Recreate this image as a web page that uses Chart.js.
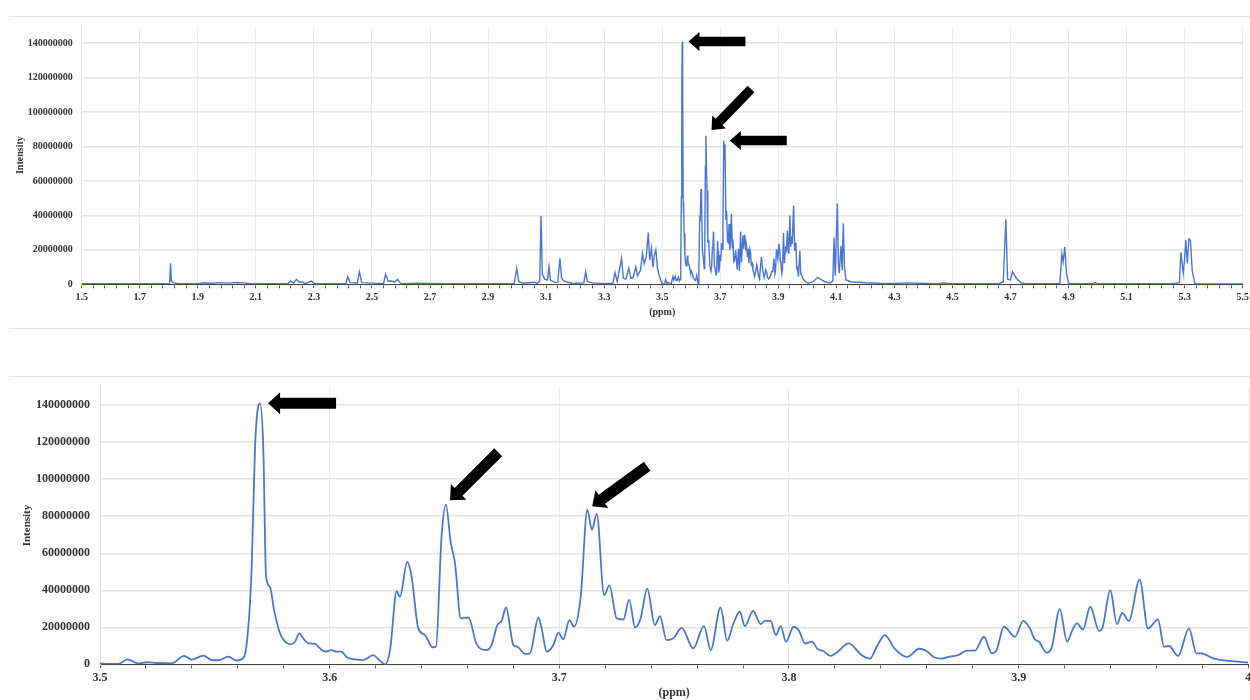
<!DOCTYPE html>
<html>
<head>
<meta charset="utf-8">
<script src="https://cdn.jsdelivr.net/npm/chart.js@4/dist/chart.umd.min.js"></script>
<style>
  html, body { margin: 0; padding: 0; background: #fff; overflow: hidden; width: 1250px; height: 700px; }
  .rule { position: absolute; left: 9px; width: 1241px; height: 1px; background: #e3e3e3; }
  #fullSpectrum { position: absolute; left: 0; top: 17px; }
  #zoomSpectrum { position: absolute; left: 0; top: 377px; }
</style>
</head>
<body>
<div class="rule" style="top:16px"></div>
<div class="rule" style="top:328px"></div>
<div class="rule" style="top:376px"></div>
<canvas id="fullSpectrum" width="1270" height="310"></canvas>
<canvas id="zoomSpectrum" width="1270" height="324"></canvas>
<script>
// Intensities are listed in millions of counts.
const UNIT = 1e6;

// Intensity axis labels (millions)
const intensityTicks = [0, 20, 40, 60, 80, 100, 120, 140];

// 1H NMR spectrum, 1.5 - 3.5 ppm
const lowPpm = [1.50, 1.80, 1.803, 1.806, 1.809, 1.815, 1.83, 1.90, 1.92, 1.95, 1.97, 2.00, 2.03, 2.06, 2.08,
  2.21, 2.22, 2.23, 2.24, 2.25, 2.258, 2.27, 2.292, 2.30, 2.41, 2.4165, 2.425, 2.45, 2.4566, 2.465,
  2.54, 2.547, 2.556, 2.568, 2.578, 2.5876, 2.60, 2.66, 2.70, 2.75, 2.99, 2.999, 3.006, 3.02, 3.06, 3.07,
  3.078, 3.0825, 3.087, 3.095, 3.105, 3.110, 3.115, 3.13, 3.14, 3.1478, 3.153, 3.16, 3.17, 3.19,
  3.23, 3.2362, 3.242, 3.26, 3.30, 3.33, 3.3373, 3.345, 3.36, 3.366, 3.375, 3.385, 3.392, 3.40,
  3.409, 3.415, 3.425, 3.432, 3.438, 3.445, 3.452, 3.457, 3.463, 3.468, 3.473, 3.478, 3.484, 3.49, 3.495];
const lowIntensity = [0.3, 0.3, 0.8, 12.2, 2.0, 1.0, 0.5, 0.3, 0.9, 0.6, 1.0, 0.7, 1.0, 0.8, 0.3,
  0.3, 1.9, 0.6, 2.9, 1.2, 1.5, 0.4, 1.9, 0.3, 0.3, 4.4, 1.0, 0.8, 7.3, 1.0,
  0.4, 5.8, 1.8, 1.9, 1.2, 2.9, 0.4, 0.7, 0.5, 0.3, 0.4, 9.3, 1.5, 0.6, 1.2, 0.5,
  2.0, 39.6, 6.0, 3.0, 2.5, 10.2, 2.5, 1.0, 1.2, 15.1, 4.0, 2.0, 1.5, 0.5,
  0.8, 7.3, 1.5, 0.8, 0.4, 0.6, 6.8, 1.5, 15.1, 3.5, 3.0, 9.3, 3.5, 4.0,
  10.2, 5.0, 8.0, 18.0, 12.0, 16.0, 30.0, 14.0, 20.9, 10.0, 17.0, 19.9, 9.0, 5.0, 2.5];

// 3.5 - 4.0 ppm, the crowded region shown enlarged below
const detailPpm = [3.5000, 3.5044, 3.5080, 3.5119, 3.5167, 3.5203, 3.5247, 3.5312, 3.5367, 3.5399,
  3.5450, 3.5486, 3.5515, 3.5559, 3.5595, 3.5617, 3.5639, 3.5660, 3.5675, 3.5690,
  3.5697, 3.5711, 3.5723, 3.5740, 3.5758, 3.5784, 3.5806, 3.5827, 3.5849, 3.5868,
  3.5885, 3.5907, 3.5936, 3.5958, 3.5980, 3.6009, 3.6030, 3.6052, 3.6074, 3.6110,
  3.6147, 3.6190, 3.6212, 3.6241, 3.6263, 3.6292, 3.6306, 3.6338, 3.6357, 3.6386,
  3.6415, 3.6448, 3.6463, 3.6487, 3.6506, 3.6527, 3.6546, 3.6571, 3.6604, 3.6640,
  3.6681, 3.6705, 3.6730, 3.6749, 3.6768, 3.6800, 3.6817, 3.6851, 3.6872, 3.6909,
  3.6923, 3.6945, 3.6974, 3.6996, 3.7017, 3.7044, 3.7064, 3.7093, 3.7122, 3.7142,
  3.7163, 3.7195, 3.7218, 3.7250, 3.7279, 3.7304, 3.7330, 3.7354, 3.7383, 3.7416,
  3.7438, 3.7467, 3.7496, 3.7533, 3.7583, 3.7630, 3.7659, 3.7702, 3.7731, 3.7757,
  3.7786, 3.7808, 3.7844, 3.7877, 3.7895, 3.7920, 3.7943, 3.7964, 3.7987, 3.8020,
  3.8043, 3.8070, 3.8100, 3.8125, 3.8150, 3.8180, 3.8207, 3.8260, 3.8316, 3.8353,
  3.8382, 3.8418, 3.8460, 3.8514, 3.8568, 3.8603, 3.8632, 3.8665, 3.8701, 3.8737,
  3.8774, 3.8810, 3.8849, 3.8883, 3.8904, 3.8936, 3.8984, 3.9020, 3.9049, 3.9070,
  3.9089, 3.9121, 3.9143, 3.9179, 3.9211, 3.9234, 3.9254, 3.9280, 3.9312, 3.9350,
  3.9364, 3.9399, 3.9428, 3.9451, 3.9480, 3.9527, 3.9563, 3.9607, 3.9633, 3.9655,
  3.9694, 3.9742, 3.9774, 3.9796, 3.9847, 3.9919, 4.0000];
const detailIntensity = [0.5, 0.2, 0.2, 2.7, 0.5, 1.1, 0.7, 0.5, 4.5, 2.5,
  4.7, 2.3, 2.2, 4.1, 2.0, 2.7, 11.3, 50.8, 117, 140,
  141, 117, 47.7, 41.8, 29.3, 16.7, 12.2, 10.8, 12.2, 16.7,
  14.0, 11.3, 11.0, 8.6, 6.8, 7.7, 6.8, 6.8, 3.8, 2.7,
  2.3, 5.0, 2.7, 0.0, 7.7, 39.5, 36.4, 55.3, 47.2, 19.4,
  15.8, 9.2, 9.5, 68.7, 86.3, 66.0, 54.4, 24.8, 25.3, 10.9,
  7.7, 10.4, 21.2, 23.5, 30.7, 10.4, 9.5, 5.6, 5.9, 25.3,
  19.4, 6.8, 10.4, 17.1, 13.5, 23.9, 20.3, 36.4, 83.5, 72.7,
  81.3, 37.3, 42.7, 24.8, 24.2, 35.0, 19.9, 24.8, 40.9, 21.2,
  26.0, 13.1, 14.0, 19.7, 8.6, 20.6, 7.7, 30.7, 12.7, 21.7,
  28.4, 20.6, 28.9, 21.7, 23.5, 23.5, 15.8, 20.6, 12.2, 20.3,
  18.3, 11.3, 12.2, 8.2, 7.2, 4.5, 6.3, 11.3, 5.0, 3.0,
  9.5, 15.8, 8.5, 4.0, 8.4, 6.8, 3.8, 3.1, 4.2, 5.0,
  7.4, 7.4, 14.9, 5.9, 7.7, 20.3, 14.9, 23.5, 19.4, 13.5,
  12.2, 6.3, 8.6, 29.8, 12.2, 18.5, 22.1, 18.8, 31.1, 18.1,
  19.4, 40.0, 21.7, 27.8, 23.5, 45.8, 19.4, 24.2, 9.5, 9.9,
  4.5, 19.4, 5.9, 5.9, 3.2, 1.8, 0.9];

// 4.0 - 5.5 ppm
const highPpm = [4.005, 4.02, 4.035, 4.045, 4.06, 4.08, 4.088, 4.092, 4.096, 4.1035, 4.107, 4.11, 4.116,
  4.12, 4.124, 4.128, 4.133, 4.15, 4.20, 4.25, 4.30, 4.35, 4.40, 4.45, 4.47, 4.49,
  4.66, 4.675, 4.684, 4.69, 4.70, 4.707, 4.72, 4.735, 4.75, 4.87, 4.8769, 4.8815, 4.887, 4.893,
  4.90, 4.91, 4.985, 4.99, 5.00, 5.25, 5.27, 5.282, 5.287, 5.295, 5.30, 5.304, 5.309, 5.3147,
  5.32, 5.326, 5.335, 5.34, 5.50];
const highIntensity = [0.7, 1.5, 4.0, 3.0, 1.5, 0.8, 2.0, 27.2, 5.0, 47.0, 12.0, 6.4, 22.4,
  8.0, 35.4, 10.0, 2.5, 1.5, 0.9, 0.6, 0.5, 0.8, 0.5, 0.3, 0.8, 0.3,
  0.3, 1.5, 37.7, 3.0, 2.5, 7.3, 3.5, 1.0, 0.3, 0.5, 17.6, 13.0, 21.8, 6.0,
  0.8, 0.3, 0.3, 1.0, 0.3, 0.3, 0.6, 1.0, 18.5, 6.4, 15.0, 25.7, 12.2, 26.3,
  25.7, 8.0, 0.6, 0.3, 0.2];

// Peaks picked out with arrows: ppm window searched for the maximum, arrow direction
const arrowTargets = [
  { from: 3.560, to: 3.580, angle: 0 },
  { from: 3.645, to: 3.655, angle: -46 },
  { from: 3.705, to: 3.720, angle: 0 }
];
const zoomArrowAngles = [0, -45, -36];

const toPoints = (ppm, inten) => ppm.map((p, i) => ({ x: p, y: inten[i] * UNIT }));
const fullPoints = [
  ...toPoints(lowPpm, lowIntensity),
  ...toPoints(detailPpm, detailIntensity),
  ...toPoints(highPpm, highIntensity)
];
const zoomPoints = toPoints(detailPpm, detailIntensity);

const SERIF = "'Liberation Serif', 'Times New Roman', serif";
const INK = '#333333';
const LINE = '#4a76d3';

// Black block arrows aimed at the tallest point inside each window
const blockArrows = {
  id: 'blockArrows',
  afterDatasetsDraw(chart, args, opts) {
    if (!opts || !opts.marks) return;
    const { ctx, scales: { x, y } } = chart;
    const pts = chart.data.datasets[0].data;
    opts.marks.forEach(m => {
      let best = null;
      pts.forEach(p => { if (p.x >= m.from && p.x <= m.to && (!best || p.y > best.y)) best = p; });
      if (!best) return;
      const a = m.angle * Math.PI / 180;
      const tx = x.getPixelForValue(best.x) + Math.cos(a) * m.gap;
      const ty = y.getPixelForValue(best.y) + Math.sin(a) * m.gap;
      const L = opts.length, s = opts.shaft / 2, hw = opts.headWidth / 2, hl = opts.head;
      ctx.save();
      ctx.translate(tx, ty);
      ctx.rotate(a);
      ctx.beginPath();
      ctx.moveTo(0, 0);
      ctx.lineTo(hl, -hw);
      ctx.lineTo(hl, -s);
      ctx.lineTo(L, -s);
      ctx.lineTo(L, s);
      ctx.lineTo(hl, s);
      ctx.lineTo(hl, hw);
      ctx.closePath();
      ctx.fillStyle = '#000';
      ctx.fill();
      ctx.restore();
    });
  }
};

function spectrumChart(canvas, points, o) {
  return new Chart(canvas, {
    type: 'line',
    data: {
      datasets: [{
        data: points,
        borderColor: LINE,
        borderWidth: o.lineWidth,
        pointRadius: 0,
        fill: false,
        tension: o.smooth ? 0.4 : 0,
        cubicInterpolationMode: o.smooth ? 'monotone' : 'default'
      }]
    },
    options: {
      responsive: false,
      animation: false,
      devicePixelRatio: 1,
      layout: { padding: { left: 0, top: o.top, right: o.right, bottom: 0 } },
      plugins: {
        legend: { display: false },
        tooltip: { enabled: false },
        blockArrows: o.arrows
      },
      scales: {
        x: {
          type: 'linear',
          min: o.xMin,
          max: o.xMax,
          afterBuildTicks(scale) {
            const n = Math.round((o.xMax - o.xMin) / o.minorStep);
            const t = [];
            for (let i = 0; i <= n; i++) t.push({ value: +(o.xMin + i * o.minorStep).toFixed(3) });
            scale.ticks = t;
          },
          afterFit(scale) { scale.height = o.xAxisHeight; },
          ticks: {
            autoSkip: false,
            maxRotation: 0,
            padding: o.xTickPad,
            color: INK,
            font: { family: SERIF, weight: 'bold', size: o.tickSize },
            callback: (v, i) => (i % 5 === 0 ? String(Math.round(v * 10) / 10) : '')
          },
          grid: {
            color: c => (c.index % 5 === 0 ? '#ebebeb' : 'rgba(0,0,0,0)'),
            tickColor: '#555555',
            tickLength: 4,
            lineWidth: 1
          },
          border: { display: true, color: '#444444', width: 1 },
          title: {
            display: true,
            text: '(ppm)',
            color: INK,
            font: { family: SERIF, weight: 'bold', size: o.titleSize },
            padding: { top: 0, bottom: o.xTitlePad }
          }
        },
        y: {
          min: 0,
          max: 150 * UNIT,
          afterBuildTicks(scale) {
            scale.ticks = intensityTicks.map(v => ({ value: v * UNIT }));
          },
          afterFit(scale) { scale.width = o.yAxisWidth; },
          ticks: {
            padding: 0,
            color: INK,
            font: { family: SERIF, weight: 'bold', size: o.tickSize },
            callback: v => String(v)
          },
          // the gap between labels and plot comes from invisible tick marks
          grid: { color: '#e4e4e4', lineWidth: 1.5, drawTicks: true, tickLength: o.yTickGap, tickColor: 'rgba(0,0,0,0)' },
          border: { display: true, color: '#e4e4e4', width: 1 },
          title: {
            display: true,
            text: 'Intensity',
            color: INK,
            font: { family: SERIF, weight: 'bold', size: o.yTitleSize },
            padding: { top: o.yTitlePad, bottom: 0 }
          }
        }
      }
    },
    plugins: [blockArrows]
  });
}

spectrumChart(document.getElementById('fullSpectrum'), fullPoints, {
  lineWidth: 1.4, smooth: false,
  xMin: 1.5, xMax: 5.5, minorStep: 0.04,
  top: 9, right: 27.3, xAxisHeight: 42.7, yAxisWidth: 81.7,
  tickSize: 10, titleSize: 10, yTitleSize: 10,
  xTickPad: 3, xTitlePad: 9, yTickGap: 9, yTitlePad: 14,
  arrows: {
    length: 57, shaft: 9.5, headWidth: 19, head: 11,
    marks: arrowTargets.map((m, i) => ({ ...m, gap: [6, 8, 6][i] }))
  }
});

spectrumChart(document.getElementById('zoomSpectrum'), zoomPoints, {
  lineWidth: 1.8, smooth: true,
  xMin: 3.5, xMax: 4.0, minorStep: 0.02,
  top: 9.7, right: 21.7, xAxisHeight: 36.7, yAxisWidth: 100,
  tickSize: 12, titleSize: 12, yTitleSize: 11,
  xTickPad: 2, xTitlePad: 1, yTickGap: 10, yTitlePad: 20.4,
  arrows: {
    length: 68, shaft: 11, headWidth: 22, head: 12,
    marks: arrowTargets.map((m, i) => ({ ...m, angle: zoomArrowAngles[i], gap: [8, 6, 6][i] }))
  }
});
</script>
</body>
</html>
